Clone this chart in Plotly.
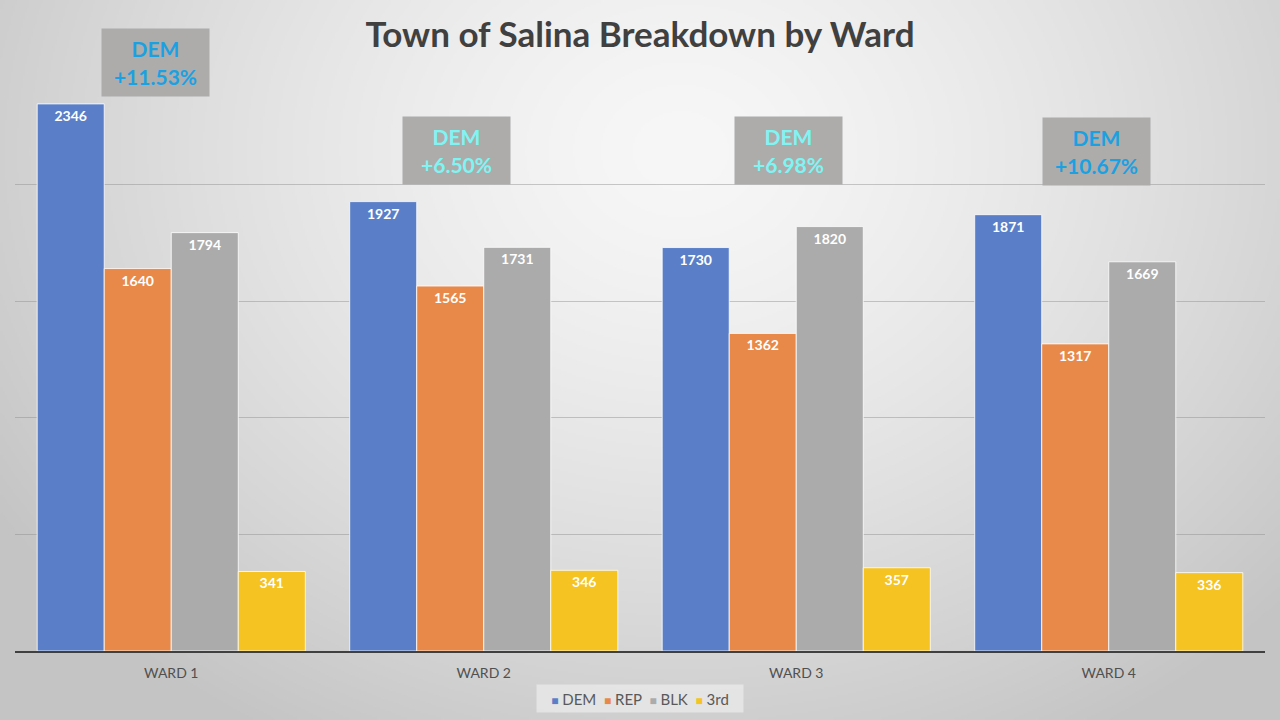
import base64
import struct
import zlib

import numpy as np
import plotly.graph_objects as go

# ---------------- data ----------------
wards = ["WARD 1", "WARD 2", "WARD 3", "WARD 4"]
dem = [2346, 1927, 1730, 1871]
rep = [1640, 1565, 1362, 1317]
blk = [1794, 1731, 1820, 1669]
third = [341, 346, 357, 336]
margin_labels = ["+11.53%", "+6.50%", "+6.98%", "+10.67%"]
margin_party = ["DEM", "DEM", "DEM", "DEM"]

series_names = ["DEM", "REP", "BLK", "3rd"]
series_values = [dem, rep, blk, third]
series_colors = ["#5a7fc8", "#e8894a", "#ababab", "#f5c322"]

title_text = "Town of Salina Breakdown by Ward"


# ---------------- background gradient (PNG data URI) ----------------
def gradient_png(w, h):
    yy, xx = np.mgrid[0:h, 0:w].astype(float)
    sx, sy = 1280.0 / w, 720.0 / h
    cx, cy, rx, ry = 680.0, 150.0, 820.0, 680.0
    d = np.sqrt(((xx * sx - cx) / rx) ** 2 + ((yy * sy - cy) / ry) ** 2)
    d = np.clip(d, 0, 1)
    val = 247 - (247 - 196) * d ** 1.4
    img = np.clip(val, 0, 255).astype(np.uint8)
    rgb = np.stack([img, img, img], axis=-1)
    raw = b"".join(b"\x00" + rgb[r].tobytes() for r in range(h))

    def chunk(tag, data):
        c = struct.pack(">I", len(data)) + tag + data
        return c + struct.pack(">I", zlib.crc32(tag + data) & 0xFFFFFFFF)

    png = b"\x89PNG\r\n\x1a\n"
    png += chunk(b"IHDR", struct.pack(">IIBBBBB", w, h, 8, 2, 0, 0, 0))
    png += chunk(b"IDAT", zlib.compress(raw, 9))
    png += chunk(b"IEND", b"")
    return "data:image/png;base64," + base64.b64encode(png).decode()


bg_src = gradient_png(640, 360)

FONT = "Lato"

fig = go.Figure()
for name, vals, col in zip(series_names, series_values, series_colors):
    fig.add_trace(go.Bar(
        name=name,
        x=wards,
        y=vals,
        marker=dict(color=col, line=dict(color="rgba(255,255,255,0.8)", width=1)),
        texttemplate="%{y}",
        textposition="inside",
        insidetextanchor="end",
        textangle=0,
        constraintext="none",
        textfont=dict(color="white", size=14, family=FONT, weight="bold"),
        hoverinfo="x+y+name",
        showlegend=False,
    ))

# margin annotations (gray boxes)
box_xshift = [-16, -27, -8, -12]
box_y = [1.010, 0.859, 0.859, 0.857]
box_color = ["#1ba1e2", "#7ff5f3", "#7ff5f3", "#1ba1e2"]
annotations = []
for w, party, lab, xs, yv, col in zip(wards, margin_party, margin_labels,
                                       box_xshift, box_y, box_color):
    annotations.append(dict(
        x=w, xref="x", xshift=xs,
        y=yv, yref="paper", yanchor="middle",
        text=f"{party}<br>{lab}",
        showarrow=False,
        bgcolor="#aeabab",
        width=107, height=67,
        borderpad=0,
        align="center",
        font=dict(family=FONT, size=21, color=col, weight="bold"),
    ))

# legend drawn as a text row (square swatch + series name)
legend_parts = [
    f"<span style='color:{c};font-size:12px'>■</span> {n}"
    for n, c in zip(series_names, series_colors)
]
annotations.append(dict(
    x=0.5, xref="paper", xanchor="center",
    y=-(698 - 651) / 583, yref="paper", yanchor="middle",
    text="&nbsp;&nbsp;".join(legend_parts),
    showarrow=False,
    bgcolor="rgba(236,236,236,0.7)",
    width=206, height=27,
    borderpad=0,
    font=dict(family=FONT, size=15, color="#595959"),
))

fig.update_layout(
    width=1280, height=720,
    margin=dict(l=15, r=15, t=68, b=69, autoexpand=False),
    paper_bgcolor="#dcdcdc",
    plot_bgcolor="rgba(0,0,0,0)",
    barmode="group",
    bargap=0.142,
    bargroupgap=0,
    title=dict(
        text=title_text,
        x=0.5, xanchor="center", xref="paper",
        y=1 - 35 / 720, yanchor="middle", yref="container",
        font=dict(family=FONT, size=35, color="#404040", weight="bold"),
    ),
    font=dict(family=FONT, color="#595959"),
    xaxis=dict(
        showline=True, linecolor="#404040", linewidth=2,
        ticks="", showgrid=False,
        tickfont=dict(size=14, color="#505050", family=FONT),
        ticklabelstandoff=8,
    ),
    yaxis=dict(
        range=[0, 2500], dtick=500, tick0=0,
        showticklabels=False, showline=False,
        showgrid=True, gridcolor="rgba(140,140,140,0.45)", gridwidth=1,
        zeroline=False,
    ),
    showlegend=False,
    annotations=annotations,
    images=[dict(
        source=bg_src, xref="paper", yref="paper",
        x=-15 / 1250, y=1 + 68 / 583, sizex=1280 / 1250, sizey=720 / 583,
        xanchor="left", yanchor="top", sizing="stretch", layer="below",
    )],
)

fig.write_html(
    "out.html",
    config={"displayModeBar": False},
    post_script="document.body.style.margin='0';document.body.style.overflow='hidden';",
)
